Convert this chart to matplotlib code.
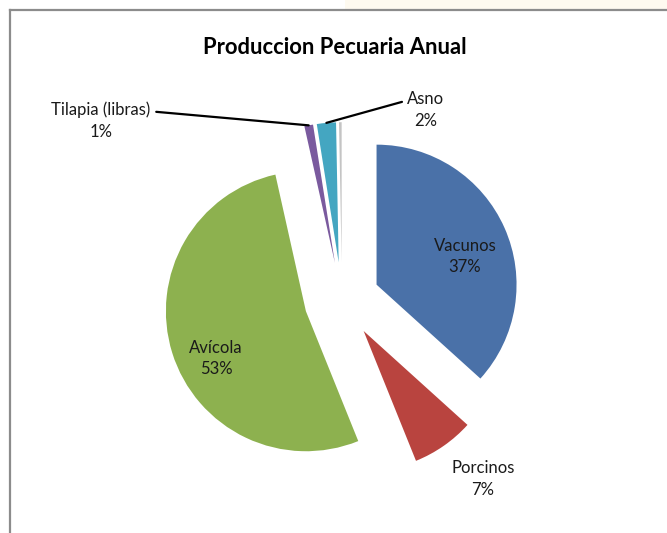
import matplotlib
matplotlib.use("Agg")
import matplotlib.pyplot as plt
import numpy as np
from matplotlib.lines import Line2D
from matplotlib.patches import Rectangle

# --- data (shares in %) ---
categories = ["Vacunos", "Porcinos", "Avícola", "Tilapia (libras)", "Asno", "Otros"]
shares = [36.7, 7.2, 52.6, 1.0, 2.2, 0.3]
colors = ["#4a71a8", "#b9443f", "#8db14f", "#7a5a9e", "#44a6c1", "#c4c4c4"]

# label placement (pie-radius units, relative to the pie centre); None = no label
label_pos = {
    "Vacunos": (0.879, 0.311),
    "Porcinos": (1.007, -1.279),
    "Avícola": (-0.90, -0.418),
    "Tilapia (libras)": (-1.721, 1.279),
    "Asno": (0.60, 1.357),
    "Otros": None,
}
leaders = {"Tilapia (libras)": (1.0, 0.75), "Asno": (-0.02, 0.75)}

W, H = 667, 533
R = 140           # pie radius in px
CX, CY = 342, 300  # pie centre in px (from top-left)

plt.rcParams["font.family"] = ["Lato", "DejaVu Sans"]

fig = plt.figure(figsize=(W / 100, H / 100), dpi=100)
fig.patch.set_facecolor("white")

# chart frame (cropped screenshot: only left and top edges visible)
fig.patches.append(Rectangle((345 / W, 1 - 9 / H), 1, 9 / H, transform=fig.transFigure,
                             facecolor="#fefaf0", edgecolor="none", zorder=0))
fig.add_artist(Line2D([10 / W, 1], [1 - 10 / H, 1 - 10 / H], color="#8c8c8c", lw=1.6))
fig.add_artist(Line2D([10 / W, 10 / W], [0, 1 - 10 / H], color="#8c8c8c", lw=1.6))

ax = fig.add_axes([0, 0, 1, 1])
wedges, _ = ax.pie(shares, colors=colors, startangle=90, counterclock=False,
                   explode=[0.27] * len(shares), radius=1.0,
                   wedgeprops=dict(linewidth=0))
ax.set_xlim(-CX / R, (W - CX) / R)
ax.set_ylim((CY - H) / R, CY / R)
ax.axis("off")

for w, cat, val in zip(wedges, categories, shares):
    pos = label_pos[cat]
    if pos is None:
        continue
    txt = f"{cat}\n{val:.0f}%"
    if cat in leaders:
        mid = np.deg2rad((w.theta1 + w.theta2) / 2)
        tip = (w.center[0] + np.cos(mid), w.center[1] + np.sin(mid))
        ax.annotate(txt, xy=tip, xytext=pos, ha="center", va="center",
                    fontsize=12, color="#1a1a1a", linespacing=1.45,
                    arrowprops=dict(arrowstyle="-", color="black", lw=1.6,
                                    relpos=leaders[cat], shrinkA=2, shrinkB=0))
    else:
        ax.text(pos[0], pos[1], txt, ha="center", va="center", fontsize=12,
                color="#1a1a1a", linespacing=1.45)

fig.text(335 / W, 1 - 47 / H, "Produccion Pecuaria Anual", ha="center", va="center",
         fontsize=15.8, fontweight="bold", color="black")

fig.savefig("out.png", dpi=100)
